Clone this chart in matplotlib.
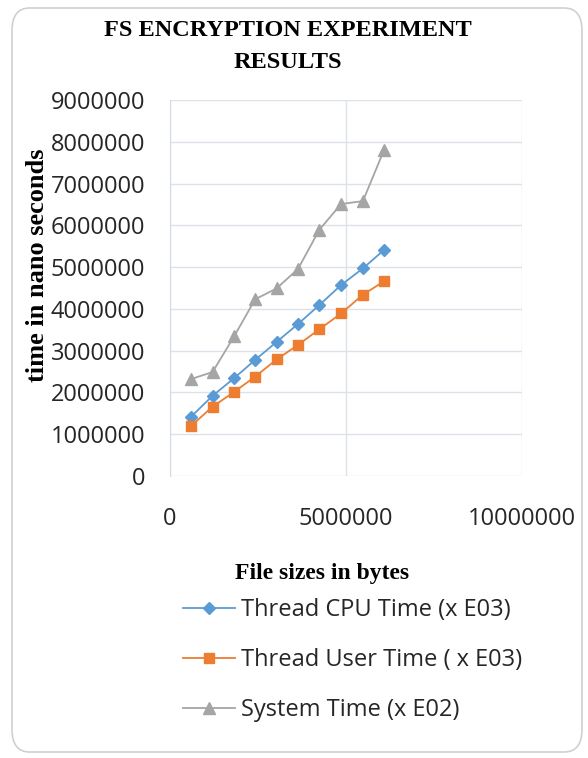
import matplotlib
matplotlib.use("Agg")
import matplotlib.pyplot as plt
from matplotlib.patches import FancyBboxPatch

# data (file size in bytes, times in ns)
file_sizes = [600000, 1210000, 1820000, 2420000, 3030000, 3640000, 4240000, 4860000, 5480000, 6080000]
cpu_time = [1420000, 1920000, 2340000, 2780000, 3210000, 3640000, 4090000, 4570000, 4970000, 5410000]
user_time = [1200000, 1660000, 2010000, 2380000, 2790000, 3140000, 3510000, 3890000, 4340000, 4660000]
system_time = [2320000, 2490000, 3340000, 4230000, 4490000, 4960000, 5890000, 6510000, 6580000, 7800000]

labels = ["Thread CPU Time (x E03)", "Thread User Time ( x E03)", "System Time (x E02)"]
y_ticks = [0, 1000000, 2000000, 3000000, 4000000, 5000000, 6000000, 7000000, 8000000, 9000000]
x_ticks = [0, 5000000, 10000000]

W, H = 588, 758
fig = plt.figure(figsize=(W / 100, H / 100), dpi=100)

# rounded outer frame
frame = FancyBboxPatch((12 / W, 6 / H), 570 / W, 744 / H, boxstyle="round,pad=0,rounding_size=0.03",
                       transform=fig.transFigure, facecolor="white", edgecolor="#d0d0d0",
                       linewidth=1.2, zorder=-10)
fig.patches.append(frame)

ax = fig.add_axes([170 / W, 1 - 476 / H, 352 / W, 376 / H])
ax.set_facecolor("none")

ax.plot(file_sizes, cpu_time, color="#5b9bd5", marker="D", markersize=6, linewidth=1.3, label=labels[0])
ax.plot(file_sizes, user_time, color="#ed7d31", marker="s", markersize=7, linewidth=1.3, label=labels[1])
ax.plot(file_sizes, system_time, color="#a5a5a5", marker="^", markersize=8, linewidth=1.3, label=labels[2])

ax.set_xlim(0, 10000000)
ax.set_ylim(0, 9000000)
ax.set_xticks(x_ticks)
ax.set_yticks(y_ticks)
ax.set_xticklabels([str(v) for v in x_ticks])
ax.set_yticklabels([str(v) for v in y_ticks])
ax.grid(True, color="#dde2ea", linewidth=1.0)
ax.set_axisbelow(True)
for s in ["top", "right", "bottom"]:
    ax.spines[s].set_visible(False)
ax.spines["left"].set_color("#d5dbe4")
ax.tick_params(length=0, labelsize=17, labelcolor="#262626")
ax.tick_params(axis="y", pad=18)
ax.tick_params(axis="x", pad=22)
for t in ax.get_xticklabels() + ax.get_yticklabels():
    t.set_family("Open Sans")

serif = "Liberation Serif"
fig.text(288 / W, 1 - 30 / H, "FS ENCRYPTION EXPERIMENT", ha="center", va="center",
         family=serif, weight="bold", fontsize=17.5)
fig.text(288 / W, 1 - 63 / H, "RESULTS", ha="center", va="center",
         family=serif, weight="bold", fontsize=17.5)
fig.text(38 / W, 1 - 265 / H, "time in nano seconds", rotation=90, ha="center", va="center",
         family=serif, weight="bold", fontsize=19)
fig.text(322 / W, 1 - 573 / H, "File sizes in bytes", ha="center", va="center",
         family=serif, weight="bold", fontsize=17)

leg = fig.legend(loc="center left", bbox_to_anchor=(183 / W, 1 - 660 / H), frameon=False,
                 prop={"family": "Open Sans", "size": 17}, handlelength=2.2, handletextpad=0.25,
                 labelspacing=1.1, borderpad=0, borderaxespad=0)
for t in leg.get_texts():
    t.set_color("#262626")

fig.savefig("out.png", dpi=100)
